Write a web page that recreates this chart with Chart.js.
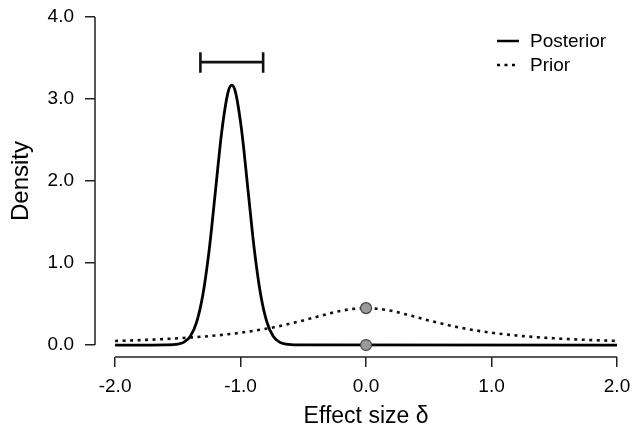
<!DOCTYPE html>
<html>
<head>
<meta charset="utf-8">
<script src="https://cdn.jsdelivr.net/npm/chart.js@4.4.1/dist/chart.umd.min.js"></script>
<style>
  html, body { margin: 0; padding: 0; background: #fff; }
  #wrap { width: 632px; height: 431px; }
</style>
</head>
<body>
<div id="wrap"><canvas id="plot"></canvas></div>
<script>
// values
const posteriorX = [-2.0, -1.7, -1.6, -1.5, -1.45, -1.4, -1.35, -1.3, -1.25, -1.2, -1.15, -1.1, -1.07,
                    -1.04, -0.99, -0.94, -0.89, -0.84, -0.79, -0.74, -0.69, -0.64, -0.54, 2.0];
const posteriorY = [0, 0, 0.001, 0.010, 0.036, 0.108, 0.279, 0.615, 1.16, 1.88, 2.60, 3.08, 3.17,
                    3.08, 2.60, 1.88, 1.16, 0.615, 0.279, 0.108, 0.036, 0.010, 0.001, 0];

const priorX = [-2, -1.75, -1.5, -1.25, -1, -0.75, -0.5, -0.35, -0.2, -0.1, 0,
                0.1, 0.2, 0.35, 0.5, 0.75, 1, 1.25, 1.5, 1.75, 2];
const priorY = [0.050, 0.063, 0.082, 0.109, 0.150, 0.212, 0.300, 0.361, 0.417, 0.441, 0.450,
                0.441, 0.417, 0.361, 0.300, 0.212, 0.150, 0.109, 0.082, 0.063, 0.050];

// 95% credible interval drawn above the posterior
const intervalX = [-1.32, -0.82];
const intervalY = 3.45;
const capY = [3.32, 3.57];

// densities at delta = 0 (prior, posterior)
const pointX = [0, 0];
const pointY = [0.45, 0];

const xTicks = [-2, -1, 0, 1, 2];
const yTicks = [0, 1, 2, 3, 4];
const legendLabels = ["Posterior", "Prior"];
const xTitle = "Effect size \u03b4";
const yTitle = "Density";

const FONT = "'Liberation Sans', Arial, Helvetica, sans-serif";

function zip(xs, ys) {
  return xs.map((x, i) => ({ x: x, y: ys[i] }));
}

// R-style detached axes, titles and the legend
const decorations = {
  id: "decorations",
  afterDraw(chart) {
    const ctx = chart.ctx;
    const xs = chart.scales.x;
    const ys = chart.scales.y;
    const area = chart.chartArea;
    ctx.save();

    ctx.strokeStyle = "#222";
    ctx.lineWidth = 1.5;
    ctx.beginPath();
    ctx.moveTo(xs.getPixelForValue(xTicks[0]), area.bottom);
    ctx.lineTo(xs.getPixelForValue(xTicks[xTicks.length - 1]), area.bottom);
    ctx.moveTo(area.left, ys.getPixelForValue(yTicks[0]));
    ctx.lineTo(area.left, ys.getPixelForValue(yTicks[yTicks.length - 1]));
    ctx.stroke();

    ctx.fillStyle = "#000";
    ctx.font = "23px " + FONT;
    ctx.textAlign = "center";
    ctx.textBaseline = "middle";
    const midX = (xs.getPixelForValue(xTicks[0]) + xs.getPixelForValue(xTicks[xTicks.length - 1])) / 2;
    ctx.fillText(xTitle, midX, 417);

    const midY = (ys.getPixelForValue(yTicks[0]) + ys.getPixelForValue(yTicks[yTicks.length - 1])) / 2;
    ctx.save();
    ctx.translate(21, midY);
    ctx.rotate(-Math.PI / 2);
    ctx.font = "24px " + FONT;
    ctx.fillText(yTitle, 0, 0);
    ctx.restore();

    // legend
    ctx.lineWidth = 2.5;
    ctx.strokeStyle = "#000";
    ctx.beginPath();
    ctx.moveTo(497, 41);
    ctx.lineTo(519, 41);
    ctx.stroke();
    ctx.setLineDash([3, 4.5]);
    ctx.beginPath();
    ctx.moveTo(497, 65);
    ctx.lineTo(519, 65);
    ctx.stroke();
    ctx.setLineDash([]);

    ctx.font = "19px " + FONT;
    ctx.textAlign = "left";
    ctx.fillText(legendLabels[0], 530, 42);
    ctx.fillText(legendLabels[1], 530, 66);

    ctx.restore();
  }
};

const tickFont = { family: FONT, size: 19 };

new Chart(document.getElementById("plot"), {
  type: "scatter",
  data: {
    datasets: [
      {
        label: "delta = 0",
        data: zip(pointX, pointY),
        pointRadius: 5.5,
        pointBackgroundColor: "#9a9a9a",
        pointBorderColor: "#444",
        pointBorderWidth: 1.2,
        showLine: false
      },
      {
        label: "interval",
        data: zip(intervalX, [intervalY, intervalY]),
        showLine: true,
        borderColor: "#111",
        borderWidth: 2.6,
        pointRadius: 0
      },
      {
        label: "cap low",
        data: zip([intervalX[0], intervalX[0]], capY),
        showLine: true,
        borderColor: "#111",
        borderWidth: 2.6,
        pointRadius: 0
      },
      {
        label: "cap high",
        data: zip([intervalX[1], intervalX[1]], capY),
        showLine: true,
        borderColor: "#111",
        borderWidth: 2.6,
        pointRadius: 0
      },
      {
        label: legendLabels[0],
        data: zip(posteriorX, posteriorY),
        showLine: true,
        borderColor: "#000",
        borderWidth: 2.8,
        pointRadius: 0,
        cubicInterpolationMode: "monotone"
      },
      {
        label: legendLabels[1],
        data: zip(priorX, priorY),
        showLine: true,
        borderColor: "#111",
        borderWidth: 2.6,
        borderDash: [3, 4.5],
        pointRadius: 0,
        cubicInterpolationMode: "monotone"
      }
    ]
  },
  options: {
    responsive: true,
    maintainAspectRatio: false,
    animation: false,
    devicePixelRatio: 1,
    layout: { padding: { top: 17, right: 15, left: 0, bottom: 0 } },
    plugins: {
      legend: { display: false },
      tooltip: { enabled: false }
    },
    scales: {
      x: {
        type: "linear",
        min: -2.16,
        max: 2,
        afterBuildTicks: s => { s.ticks = xTicks.map(v => ({ value: v })); },
        afterFit: s => { s.height = 74; s.paddingLeft = 0; s.paddingRight = 0; },
        border: { display: false },
        grid: { drawOnChartArea: false, drawTicks: true, tickLength: 10, color: "#222", lineWidth: 1.5 },
        ticks: { font: tickFont, color: "#000", padding: 8, callback: v => v.toFixed(1), maxRotation: 0 }
      },
      y: {
        type: "linear",
        min: -0.146,
        max: 4,
        afterBuildTicks: s => { s.ticks = yTicks.map(v => ({ value: v })); },
        afterFit: s => { s.width = 95; s.paddingTop = 0; s.paddingBottom = 0; },
        border: { display: false },
        grid: { drawOnChartArea: false, drawTicks: true, tickLength: 10, color: "#222", lineWidth: 1.5 },
        ticks: { font: tickFont, color: "#000", padding: 11, callback: v => v.toFixed(1) }
      }
    }
  },
  plugins: [decorations]
});
</script>
</body>
</html>
